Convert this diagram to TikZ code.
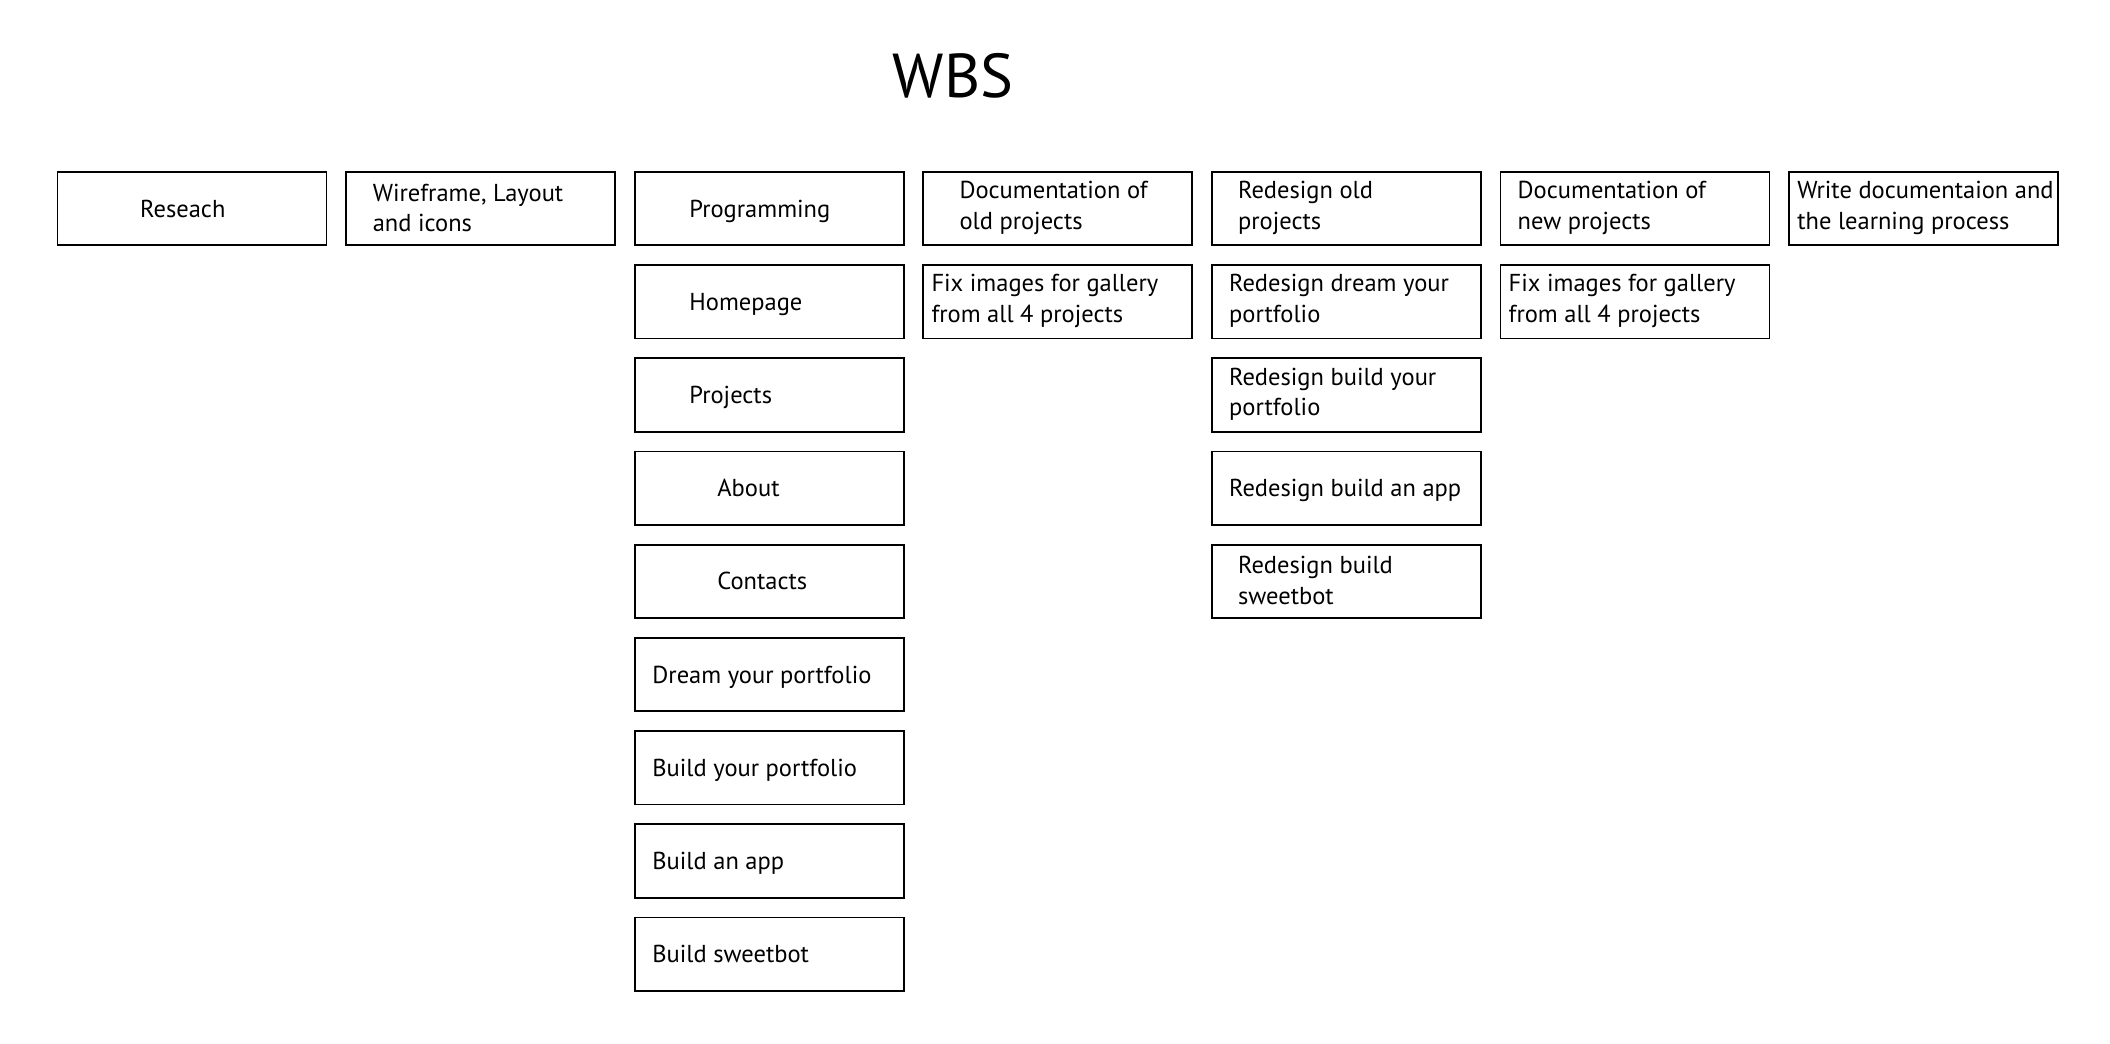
\documentclass[tikz,border=0pt]{standalone}
\usepackage{fontspec}
\setmainfont{PT Sans}
\begin{document}
\begin{tikzpicture}[x=1pt,y=-1pt,
  box/.style={draw=black, line width=1.8pt, minimum width=269pt, minimum height=73.5pt, inner sep=0pt, anchor=north west},
  txt/.style={align=left, inner sep=0pt, anchor=west, font=\fontsize{24.5}{30.5}\selectfont},
  one/.style={text height=20pt, text depth=3pt},
  two/.style={yshift=0.8pt},
  ttl/.style={inner sep=0pt, font=\fontsize{62}{70}\selectfont}]
\useasboundingbox[fill=white] (0,0) rectangle (2110,1044);
\newcommand\wbsbox[6]{%
  \node[box] (#1) at (#2,#3) {};
  \node[txt,#6] (#1t) at ([xshift=#4pt]#1.west) {#5};}
\node[ttl] (title) at (953,76) {WBS};
% column x: 56.5 345.1 633.7 922.3 1210.9 1499.5 1788.1
% row y: 170.9 264.1 357.3 450.5 543.7 636.9 730.1 823.3 916.5
\wbsbox{res}{56.5}{170.9}{83.5}{Reseach}{one}
\wbsbox{wire}{345.1}{170.9}{27.5}{Wireframe, Layout\\and icons}{two}
\wbsbox{prog}{633.7}{170.9}{55.5}{Programming}{one}
\wbsbox{home}{633.7}{264.1}{55.5}{Homepage}{one}
\wbsbox{proj}{633.7}{357.3}{55.5}{Projects}{one}
\wbsbox{about}{633.7}{450.5}{83.5}{About}{one}
\wbsbox{cont}{633.7}{543.7}{83.5}{Contacts}{one}
\wbsbox{dream}{633.7}{636.9}{18.5}{Dream your portfolio}{one}
\wbsbox{build}{633.7}{730.1}{18.5}{Build your portfolio}{one}
\wbsbox{app}{633.7}{823.3}{18.5}{Build an app}{one}
\wbsbox{sweet}{633.7}{916.5}{18.5}{Build sweetbot}{one}
\wbsbox{docold}{922.3}{170.9}{37}{Documentation of\\old projects}{two}
\wbsbox{fixold}{922.3}{264.1}{9}{Fix images for gallery\\from all 4 projects}{two}
\wbsbox{redold}{1210.9}{170.9}{27}{Redesign old\\projects}{two}
\wbsbox{reddream}{1210.9}{264.1}{18}{Redesign dream your\\portfolio}{two}
\wbsbox{redbuild}{1210.9}{357.3}{18}{Redesign build your\\portfolio}{two}
\wbsbox{redapp}{1210.9}{450.5}{18}{Redesign build an app}{one}
\wbsbox{redsweet}{1210.9}{543.7}{27}{Redesign build\\sweetbot}{two}
\wbsbox{docnew}{1499.5}{170.9}{18}{Documentation of\\new projects}{two}
\wbsbox{fixnew}{1499.5}{264.1}{9}{Fix images for gallery\\from all 4 projects}{two}
\wbsbox{write}{1788.1}{170.9}{9}{Write documentaion and\\the learning process}{two}
\end{tikzpicture}
\end{document}
